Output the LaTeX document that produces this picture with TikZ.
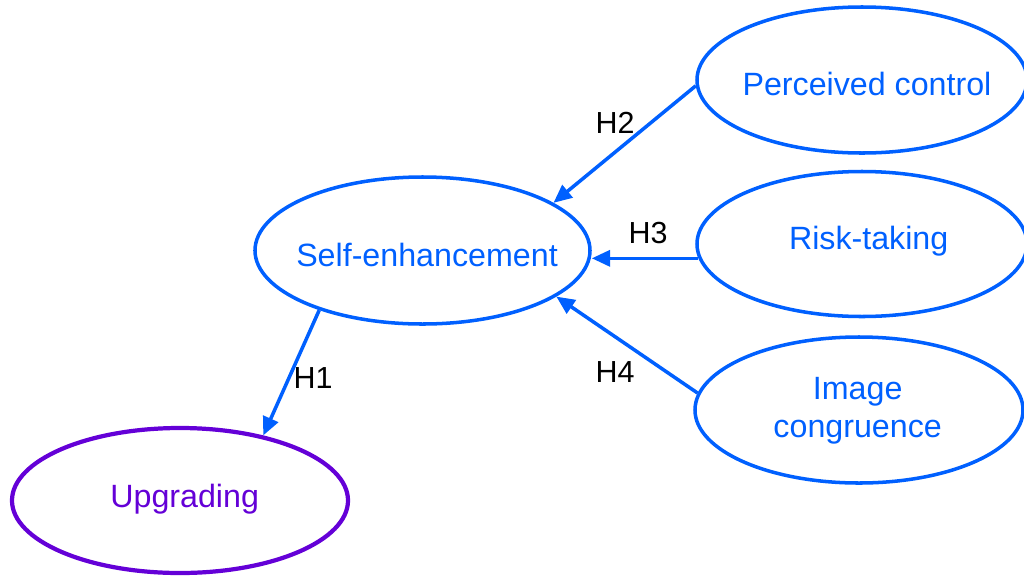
\documentclass[tikz,border=0pt]{standalone}
\usepackage{fontspec}
\setmainfont{Liberation Sans}
\usetikzlibrary{shapes.geometric,arrows.meta}
\definecolor{cblue}{RGB}{0,96,255}
\definecolor{cpurple}{RGB}{100,0,215}
\newcommand{\ovtext}[3]{\makebox[0pt]{\kern#1\raisebox{#2}[0pt][0pt]{#3}}}
\begin{document}
\begin{tikzpicture}[x=0.03cm,y=-0.03cm,
  oval/.style={ellipse,draw=cblue,line width=3pt,text=cblue,inner sep=0pt,
    font=\fontsize{27.5}{33}\selectfont},
  hlabel/.style={font=\fontsize{26}{30}\selectfont,text=black,inner sep=0pt},
  link/.style={draw=cblue,line width=3pt,-{Triangle[length=0.55cm,width=0.48cm]}}]
\useasboundingbox (0,0) rectangle (1024,577);
\node[oval,minimum width=9.9cm,minimum height=4.38cm] (pc) at (862,80) {\ovtext{0.3cm}{-0.45cm}{Perceived control}};
\node[oval,minimum width=9.9cm,minimum height=4.35cm] (rt) at (862,244) {\ovtext{0.4cm}{-0.15cm}{Risk-taking}};
\node[oval,minimum width=9.84cm,minimum height=4.38cm] (ic) at (859,410) {\ovtext{-0.08cm}{0.315cm}{Image}\ovtext{-0.08cm}{-0.81cm}{congruence}};
\node[oval,minimum width=10.05cm,minimum height=4.41cm] (se) at (422.5,250.5) {\ovtext{0.27cm}{-0.48cm}{Self-enhancement}};
\node[oval,draw=cpurple,text=cpurple,line width=3.6pt,minimum width=10.08cm,minimum height=4.35cm] (up) at (180,500.5) {\ovtext{0.28cm}{-0.21cm}{Upgrading}};
\draw[link] (pc.182) -- (se.20);
\draw[link] (rt.185) -- (rt.185 -| se.east);
\draw[link] (ic.174) -- (se.-19.5);
\draw[link] (se.210) -- (up.38);
\node[hlabel] (h2) at (615,123) {H2};
\node[hlabel] (h3) at (648,233) {H3};
\node[hlabel] (h4) at (615,372) {H4};
\node[hlabel] (h1) at (313,378) {H1};
\end{tikzpicture}
\end{document}
